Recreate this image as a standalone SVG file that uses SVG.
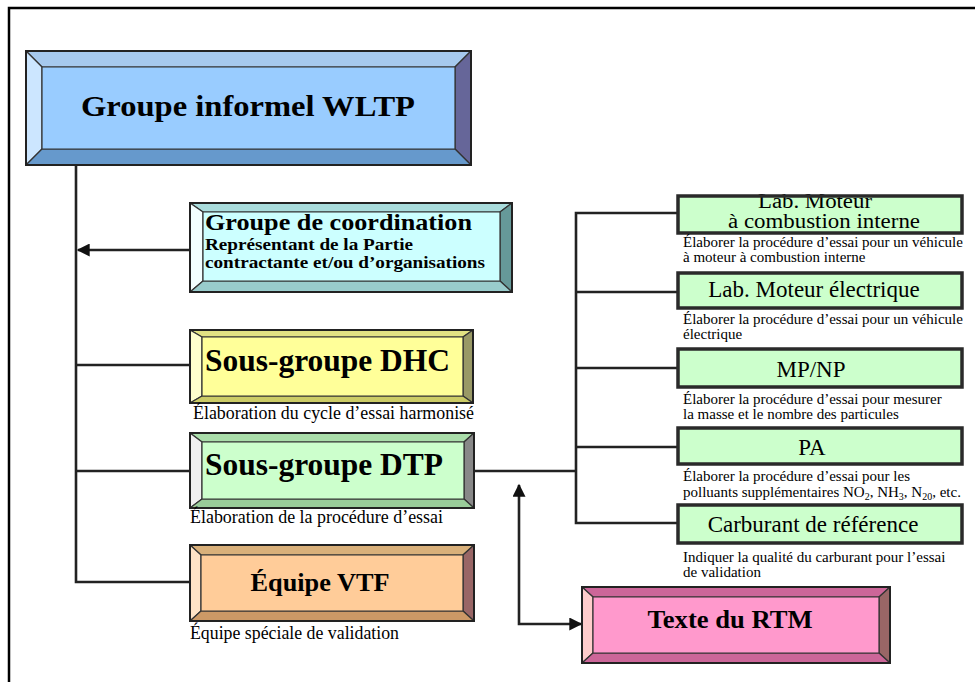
<svg xmlns="http://www.w3.org/2000/svg" width="975" height="682" viewBox="0 0 975 682">
<defs>
<style>
.bd{stroke:#333;stroke-width:1.2;stroke-linejoin:round}
.out{fill:none;stroke:#222;stroke-width:2}
.b{font-family:"Liberation Serif","Times New Roman",serif;font-weight:bold;fill:#000}
.r{font-family:"Liberation Serif","Times New Roman",serif;fill:#000}
.lab{font-size:23px;text-anchor:middle}
.desc{font-size:15px}
.ldesc{font-size:18px}
.con{fill:none;stroke:#222;stroke-width:2.6}
.rbox{fill:#CCFFCC;stroke:#2a2a2a;stroke-width:3.5}
</style>
<marker id="ah" viewBox="0 0 10 10" refX="9" refY="5" markerWidth="15" markerHeight="13" markerUnits="userSpaceOnUse" orient="auto-start-reverse">
<path d="M0,0 L10,5 L0,10 z" fill="#111"/>
</marker>
</defs>
<rect x="0" y="0" width="975" height="682" fill="#fff"/>
<path d="M9,690 V8 H990" fill="none" stroke="#000" stroke-width="2.5"/>

<g id="connectors">
<path class="con" d="M76,165 V582 H190"/>
<path class="con" d="M190,250 H78" marker-end="url(#ah)"/>
<path class="con" d="M76,365 H190"/>
<path class="con" d="M76,471 H190"/>
<path class="con" d="M474,471 H576"/>
<path class="con" d="M678,213 H576 V523 H678"/>
<path class="con" d="M576,292 H678"/>
<path class="con" d="M576,368 H678"/>
<path class="con" d="M576,447 H678"/>
<path class="con" d="M519,485 V624 H581" marker-start="url(#ah)" marker-end="url(#ah)"/>
</g>

<g id="wltp">
<polygon class="bd" fill="#A6C9EE" points="26,51 471,51 455,67 42,67"/>
<polygon class="bd" fill="#CCE6FF" points="26,51 42,67 42,149 26,165"/>
<polygon class="bd" fill="#666699" points="471,51 471,165 455,149 455,67"/>
<polygon class="bd" fill="#6699CC" points="26,165 471,165 455,149 42,149"/>
<rect class="bd" x="42" y="67" width="413" height="82" fill="#99CCFF"/>
<rect class="out" x="26" y="51" width="445" height="114"/>
<text class="b" x="248" y="116" font-size="30" text-anchor="middle" textLength="334" lengthAdjust="spacingAndGlyphs">Groupe informel WLTP</text>
</g>

<g id="coordination">
<polygon class="bd" fill="#A9DCDC" points="190,203 512,203 500,212 203,212"/>
<polygon class="bd" fill="#F2FFFF" points="190,203 203,212 203,281 190,292"/>
<polygon class="bd" fill="#669999" points="512,203 512,292 500,281 500,212"/>
<polygon class="bd" fill="#99CCCC" points="190,292 512,292 500,281 203,281"/>
<rect class="bd" x="203" y="212" width="297" height="69" fill="#CCFFFF"/>
<rect class="out" x="190" y="203" width="322" height="89"/>
<text class="b" x="205" y="230" font-size="24" textLength="267" lengthAdjust="spacingAndGlyphs">Groupe de coordination</text>
<text class="b" x="205" y="250" font-size="16" textLength="208" lengthAdjust="spacingAndGlyphs">Représentant de la Partie</text>
<text class="b" x="205" y="268" font-size="16" textLength="280" lengthAdjust="spacingAndGlyphs">contractante et/ou d’organisations</text>
</g>

<g id="dhc">
<polygon class="bd" fill="#E2E283" points="190,330 473,330 463,337 202,337"/>
<polygon class="bd" fill="#FFFFCC" points="190,330 202,337 202,396 190,403"/>
<polygon class="bd" fill="#999966" points="473,330 473,403 463,396 463,337"/>
<polygon class="bd" fill="#CCCC66" points="190,403 473,403 463,396 202,396"/>
<rect class="bd" x="202" y="337" width="261" height="59" fill="#FFFF99"/>
<rect class="out" x="190" y="330" width="283" height="73"/>
<text class="b" x="205" y="371" font-size="31" textLength="245" lengthAdjust="spacingAndGlyphs">Sous-groupe DHC</text>
<text class="r ldesc" x="193" y="419" textLength="281" lengthAdjust="spacingAndGlyphs">Élaboration du cycle d’essai harmonisé</text>
</g>

<g id="dtp">
<polygon class="bd" fill="#AADDAA" points="190,433 474,433 464,442 202,442"/>
<polygon class="bd" fill="#F0F0F0" points="190,433 202,442 202,499 190,508"/>
<polygon class="bd" fill="#888888" points="474,433 474,508 464,499 464,442"/>
<polygon class="bd" fill="#99CC99" points="190,508 474,508 464,499 202,499"/>
<rect class="bd" x="202" y="442" width="262" height="57" fill="#CCFFCC"/>
<rect class="out" x="190" y="433" width="284" height="75"/>
<text class="b" x="205" y="475" font-size="31" textLength="238" lengthAdjust="spacingAndGlyphs">Sous-groupe DTP</text>
<text class="r ldesc" x="190" y="523" textLength="253" lengthAdjust="spacingAndGlyphs">Élaboration de la procédure d’essai</text>
</g>

<g id="vtf">
<polygon class="bd" fill="#D9B07A" points="190,545 474,545 463,555 201,555"/>
<polygon class="bd" fill="#FFE3C6" points="190,545 201,555 201,611 190,621"/>
<polygon class="bd" fill="#996666" points="474,545 474,621 463,611 463,555"/>
<polygon class="bd" fill="#CC9966" points="190,621 474,621 463,611 201,611"/>
<rect class="bd" x="201" y="555" width="262" height="56" fill="#FFCC99"/>
<rect class="out" x="190" y="545" width="284" height="76"/>
<text class="b" x="320" y="591" font-size="26" text-anchor="middle" textLength="139" lengthAdjust="spacingAndGlyphs">Équipe VTF</text>
<text class="r ldesc" x="190" y="639" textLength="209" lengthAdjust="spacingAndGlyphs">Équipe spéciale de validation</text>
</g>

<g id="rtm">
<polygon class="bd" fill="#CC6699" points="582,587 890,587 879,597 593,597"/>
<polygon class="bd" fill="#FFCCCC" points="582,587 593,597 593,653 582,663"/>
<polygon class="bd" fill="#996666" points="890,587 890,663 879,653 879,597"/>
<polygon class="bd" fill="#CC6699" points="582,663 890,663 879,653 593,653"/>
<rect class="bd" x="593" y="597" width="286" height="56" fill="#FF99CC"/>
<rect class="out" x="582" y="587" width="308" height="76"/>
<text class="b" x="730" y="628" font-size="25" text-anchor="middle" textLength="165" lengthAdjust="spacingAndGlyphs">Texte du RTM</text>
</g>

<g id="lab-combustion">
<rect x="678" y="196" width="284" height="37" fill="#CCFFCC"/>
<text class="r" x="815" y="208" font-size="20" text-anchor="middle" textLength="114" lengthAdjust="spacingAndGlyphs">Lab. Moteur</text>
<text class="r" x="824" y="228" font-size="20" text-anchor="middle" textLength="192" lengthAdjust="spacingAndGlyphs">à combustion interne</text>
<rect x="678" y="196" width="284" height="37" fill="none" stroke="#2a2a2a" stroke-width="3.5"/>
<text class="r desc" x="683" y="247">Élaborer la procédure d’essai pour un véhicule</text>
<text class="r desc" x="683" y="262">à moteur à combustion interne</text>
</g>

<g id="lab-electrique">
<rect class="rbox" x="678" y="273" width="284" height="35"/>
<text class="r lab" x="814" y="297">Lab. Moteur électrique</text>
<text class="r desc" x="683" y="324">Élaborer la procédure d’essai pour un véhicule</text>
<text class="r desc" x="683" y="339">électrique</text>
</g>

<g id="mpnp">
<rect class="rbox" x="678" y="349" width="284" height="38"/>
<text class="r lab" x="811" y="377">MP/NP</text>
<text class="r desc" x="683" y="404">Élaborer la procédure d’essai pour mesurer</text>
<text class="r desc" x="683" y="419">la masse et le nombre des particules</text>
</g>

<g id="pa">
<rect class="rbox" x="678" y="428" width="284" height="36"/>
<text class="r lab" x="812" y="455">PA</text>
<text class="r desc" x="683" y="481">Élaborer la procédure d’essai pour les</text>
<text class="r desc" x="683" y="497">polluants supplémentaires NO<tspan font-size="10" dy="3">2</tspan><tspan dy="-3">, NH</tspan><tspan font-size="10" dy="3">3</tspan><tspan dy="-3">, N</tspan><tspan font-size="10" dy="3">20</tspan><tspan dy="-3">, etc.</tspan></text>
</g>

<g id="carburant">
<rect class="rbox" x="678" y="505" width="284" height="38"/>
<text class="r lab" x="813" y="532">Carburant de référence</text>
<text class="r desc" x="683" y="562">Indiquer la qualité du carburant pour l’essai</text>
<text class="r desc" x="683" y="577">de validation</text>
</g>
</svg>
